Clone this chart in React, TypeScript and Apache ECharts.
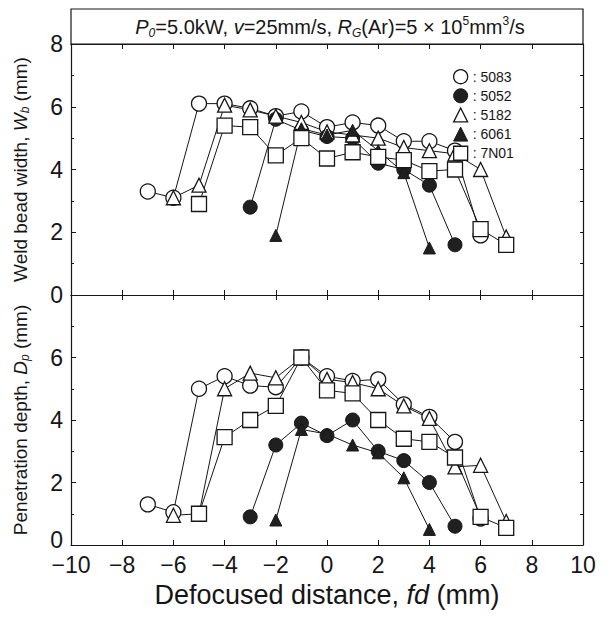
import React, { useEffect, useRef } from "react";
import * as echarts from "echarts";

// ---- Data ----
// Top panel: weld bead width Wb (mm)
const wb5083X = [-7, -6, -5, -4, -3, -2, -1, 0, 1, 2, 3, 4, 5, 6];
const wb5083Y = [3.3, 3.1, 6.1, 6.1, 5.95, 5.7, 5.85, 5.35, 5.5, 5.4, 4.9, 4.9, 4.6, 1.9];
const wb5052X = [-3, -2, -1, 0, 1, 2, 3, 4, 5];
const wb5052Y = [2.8, 5.6, 5.25, 5.05, 5.0, 4.2, 4.0, 3.5, 1.6];
const wb5182X = [-6, -5, -4, -3, -2, -1, 0, 1, 2, 3, 4, 5, 6, 7];
const wb5182Y = [3.1, 3.5, 6.05, 5.9, 5.7, 5.5, 5.2, 5.1, 5.0, 4.7, 4.6, 4.5, 4.0, 1.85];
const wb6061X = [-2, -1, 0, 1, 2, 3, 4];
const wb6061Y = [1.9, 5.3, 5.1, 5.25, 4.6, 3.9, 1.5];
const wb7N01X = [-5, -4, -3, -2, -1, 0, 1, 2, 3, 4, 5, 6, 7];
const wb7N01Y = [2.9, 5.4, 5.35, 4.45, 5.0, 4.35, 4.55, 4.4, 4.3, 3.95, 4.0, 2.1, 1.6];

// Bottom panel: penetration depth Dp (mm)
const dp5083X = [-7, -6, -5, -4, -3, -2, -1, 0, 1, 2, 3, 4, 5, 6];
const dp5083Y = [1.3, 1.05, 5.0, 5.4, 5.1, 5.05, 6.0, 5.4, 5.25, 5.3, 4.5, 4.1, 3.3, 0.85];
const dp5052X = [-3, -2, -1, 0, 1, 2, 3, 4, 5];
const dp5052Y = [0.9, 3.2, 3.9, 3.5, 4.0, 3.0, 2.7, 2.0, 0.6];
const dp5182X = [-6, -5, -4, -3, -2, -1, 0, 1, 2, 3, 4, 5, 6, 7];
const dp5182Y = [0.95, 1.0, 5.0, 5.5, 5.35, 6.0, 5.3, 5.2, 5.0, 4.45, 4.05, 2.5, 2.55, 0.75];
const dp6061X = [-2, -1, 0, 1, 2, 3, 4];
const dp6061Y = [0.8, 3.7, 3.55, 3.2, 2.95, 2.15, 0.5];
const dp7N01X = [-5, -4, -3, -2, -1, 0, 1, 2, 3, 4, 5, 6, 7];
const dp7N01Y = [1.0, 3.45, 4.0, 4.45, 6.0, 4.95, 4.85, 4.0, 3.4, 3.3, 2.8, 0.9, 0.55];

const alloyNames = ["5083", "5052", "5182", "6061", "7N01"];
const xMin = -10;
const xMax = 10;
const yMin = 0;
const yMax = 8;

const FONT = "'Liberation Sans', Arial, Helvetica, sans-serif";
const INK = "#161616";

const pairs = (xs: number[], ys: number[]) => xs.map((x, i) => [x, ys[i]]);

const styles: Record<string, any> = {
  "5083": { symbol: "circle", symbolSize: 15, itemStyle: { color: "#fff", borderColor: INK, borderWidth: 1.3 } },
  "5052": { symbol: "circle", symbolSize: 14, itemStyle: { color: "#202020", borderColor: INK, borderWidth: 1 } },
  "5182": { symbol: "triangle", symbolSize: 14, itemStyle: { color: "#fff", borderColor: INK, borderWidth: 1.3 } },
  "6061": { symbol: "triangle", symbolSize: 12, itemStyle: { color: "#202020", borderColor: INK, borderWidth: 1 } },
  "7N01": { symbol: "rect", symbolSize: 15, itemStyle: { color: "#fff", borderColor: INK, borderWidth: 1.3 } },
};

const topData: Record<string, number[][]> = {
  "5083": pairs(wb5083X, wb5083Y),
  "5052": pairs(wb5052X, wb5052Y),
  "5182": pairs(wb5182X, wb5182Y),
  "6061": pairs(wb6061X, wb6061Y),
  "7N01": pairs(wb7N01X, wb7N01Y),
};
const botData: Record<string, number[][]> = {
  "5083": pairs(dp5083X, dp5083Y),
  "5052": pairs(dp5052X, dp5052Y),
  "5182": pairs(dp5182X, dp5182Y),
  "6061": pairs(dp6061X, dp6061Y),
  "7N01": pairs(dp7N01X, dp7N01Y),
};

const axisLine = { show: true, onZero: false, lineStyle: { color: INK, width: 1.2 } };

function xAx(grid: number, pos: string, labels: boolean, extra: any = {}) {
  return {
    type: "value",
    gridIndex: grid,
    position: pos,
    min: xMin,
    max: xMax,
    interval: 2,
    axisLine,
    axisTick: { show: true, inside: true, length: 5, lineStyle: { color: INK } },
    axisLabel: {
      show: labels,
      fontSize: 23,
      color: INK,
      fontFamily: FONT,
      margin: 8,
      formatter: (v: number) => (v < 0 ? "\u2212" + Math.abs(v) : String(v)),
    },
    splitLine: { show: false },
    ...extra,
  };
}

function yAx(grid: number, pos: string, left: boolean, extra: any = {}) {
  return {
    type: "value",
    gridIndex: grid,
    position: pos,
    min: yMin,
    max: yMax,
    interval: left ? 2 : 1,
    axisLine,
    axisTick: { show: true, inside: true, length: left ? 5 : 3, lineStyle: { color: INK } },
    minorTick: { show: left, splitNumber: 2, length: 3, lineStyle: { color: INK } },
    axisLabel: { show: left, fontSize: 23, color: INK, fontFamily: FONT, margin: 8 },
    splitLine: { show: false },
    ...extra,
  };
}

const nameRich = (size: number) => ({
  i: { fontStyle: "italic", fontSize: size, fontFamily: FONT, color: INK },
  sub: { fontSize: Math.round(size * 0.65), fontStyle: "italic", fontFamily: FONT, color: INK, verticalAlign: "bottom", lineHeight: Math.round(size * 0.65) },
});

export default function App() {
  const ref = useRef<HTMLDivElement>(null);
  useEffect(() => {
    if (!ref.current) return;
    const chart = echarts.init(ref.current, undefined, { renderer: "svg" });
    const series: any[] = [];
    alloyNames.forEach((n) => {
      series.push({
        name: n,
        type: "line",
        xAxisIndex: 0,
        yAxisIndex: 0,
        data: topData[n],
        lineStyle: { color: INK, width: 1 },
        ...styles[n],
        z: 2,
      });
    });
    alloyNames.forEach((n) => {
      series.push({
        name: n,
        type: "line",
        xAxisIndex: 2,
        yAxisIndex: 2,
        data: botData[n],
        lineStyle: { color: INK, width: 1 },
        ...styles[n],
        z: 2,
      });
    });
    const option: any = {
      animation: false,
      textStyle: { fontFamily: FONT },
      grid: [
        { left: 71, top: 44, width: 512, height: 251 },
        { left: 71, top: 295, width: 512, height: 250 },
      ],
      xAxis: [
        xAx(0, "bottom", false),
        xAx(0, "top", false),
        xAx(1, "bottom", true, {
          name: "Defocused distance, {i|fd} (mm)",
          nameLocation: "middle",
          nameGap: 36,
          nameTextStyle: { fontSize: 27, color: INK, fontFamily: FONT, rich: nameRich(27) },
        }),
        xAx(1, "top", false),
      ],
      yAxis: [
        yAx(0, "left", true, {
          name: "Weld bead width, {i|W}{sub|b} (mm)",
          nameLocation: "middle",
          nameGap: 40,
          nameTextStyle: { fontSize: 19, color: INK, fontFamily: FONT, rich: nameRich(19), lineHeight: 22 },
        }),
        yAx(0, "right", false),
        yAx(1, "left", true, {
          axisLabel: {
            show: true,
            fontSize: 23,
            color: INK,
            fontFamily: FONT,
            margin: 8,
            showMaxLabel: false,
            formatter: (v: number) => (v === 0 ? "{z|0}" : String(v)),
            rich: { z: { fontSize: 23, color: INK, fontFamily: FONT, padding: [0, 0, 10, 0] } },
          },
          name: "Penetration depth, {i|D}{sub|p} (mm)",
          nameLocation: "middle",
          nameGap: 40,
          nameTextStyle: { fontSize: 19, color: INK, fontFamily: FONT, rich: nameRich(19), lineHeight: 22 },
        }),
        yAx(1, "right", false),
      ],
      legend: {
        orient: "vertical",
        left: 448,
        top: 64,
        itemWidth: 14,
        itemHeight: 14,
        itemGap: 4,
        formatter: ": {name}",
        textStyle: { fontSize: 14, color: INK, fontFamily: FONT },
        data: alloyNames.map((n) => ({
          name: n,
          icon: styles[n].symbol,
          itemStyle: styles[n].itemStyle,
        })),
      },
      graphic: [
        {
          type: "rect",
          shape: { x: 71, y: 9, width: 512, height: 35 },
          style: { fill: "none", stroke: INK, lineWidth: 1.2 },
        },
        {
          type: "text",
          x: 330,
          y: 27,
          style: {
            text: "{i|P}{sub|0}=5.0kW, {i|v}=25mm/s, {i|R}{sub|G}(Ar)=5 \u00d7 10{sup|5}mm{sup|3}/s",
            fontSize: 20,
            fontFamily: FONT,
            fill: INK,
            align: "center",
            verticalAlign: "middle",
            lineHeight: 24,
            rich: {
              i: { fontStyle: "italic", fontSize: 20, fontFamily: FONT, fill: INK, lineHeight: 24 },
              sub: { fontSize: 12, fontStyle: "italic", fontFamily: FONT, fill: INK, verticalAlign: "bottom", lineHeight: 12 },
              sup: { fontSize: 12, fontFamily: FONT, fill: INK, verticalAlign: "top", lineHeight: 12 },
            },
          },
        },
      ],
      series,
    };
    chart.setOption(option);
    return () => chart.dispose();
  }, []);
  return (
    <div
      ref={ref}
      style={{ position: "fixed", left: 0, top: 0, width: 614, height: 617, background: "#fff" }}
    />
  );
}
